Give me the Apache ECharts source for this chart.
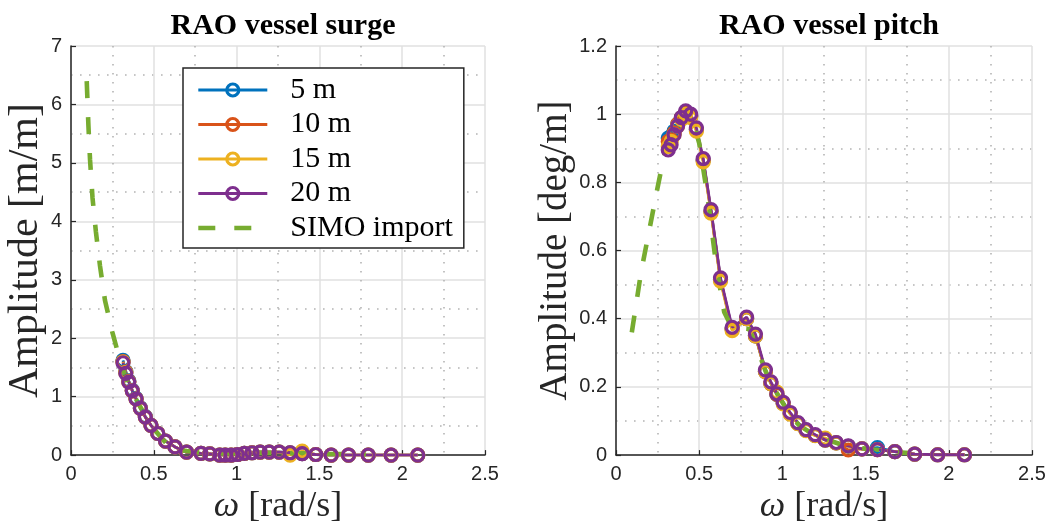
<!DOCTYPE html>
<html><head><meta charset="utf-8">
<script src="https://cdn.jsdelivr.net/npm/echarts@6/dist/echarts.min.js"></script>
<style>html,body{margin:0;padding:0;background:#fff}#c{width:1055px;height:530px}</style>
</head><body><div id="c"></div>
<script>
// ---- data ----
const omega = [0.314, 0.331, 0.349, 0.370, 0.393, 0.419, 0.449, 0.483, 0.524, 0.571, 0.628, 0.698, 0.785, 0.838, 0.898, 0.931, 0.967, 1.005, 1.047, 1.093, 1.142, 1.197, 1.257, 1.323, 1.396, 1.478, 1.571, 1.676, 1.795, 1.933, 2.094];

const surge5  = [1.62, 1.43, 1.27, 1.11, 0.97, 0.81, 0.66, 0.51, 0.37, 0.24, 0.14, 0.05, 0.03, 0.02, 0.0, 0.0, 0.0, 0.01, 0.03, 0.04, 0.05, 0.05, 0.05, 0.04, 0.025, 0.01, 0.0, 0.0, 0.0, 0.0, 0.0];
const surge10 = [1.60, 1.42, 1.26, 1.10, 0.96, 0.80, 0.65, 0.51, 0.37, 0.24, 0.14, 0.05, 0.03, 0.02, 0.0, 0.0, 0.0, 0.01, 0.03, 0.04, 0.05, 0.05, 0.05, 0.04, 0.025, 0.01, 0.0, 0.0, 0.0, 0.0, 0.0];
const surge15 = [1.59, 1.41, 1.25, 1.10, 0.96, 0.80, 0.65, 0.51, 0.37, 0.24, 0.14, 0.05, 0.03, 0.02, 0.0, 0.0, 0.0, 0.01, 0.03, 0.04, 0.05, 0.05, 0.05, 0.0, 0.07, 0.01, 0.0, 0.0, 0.0, 0.0, 0.0];
const surge20 = [1.58, 1.40, 1.25, 1.10, 0.96, 0.80, 0.65, 0.51, 0.37, 0.24, 0.14, 0.05, 0.03, 0.02, 0.0, 0.0, 0.0, 0.01, 0.03, 0.04, 0.05, 0.05, 0.05, 0.04, 0.025, 0.01, 0.0, 0.0, 0.0, 0.0, 0.0];

const pitch5  = [0.93, 0.935, 0.95, 0.97, 0.99, 1.005, 0.995, 0.955, 0.865, 0.715, 0.515, 0.37, 0.40, 0.35, 0.245, 0.21, 0.178, 0.152, 0.122, 0.093, 0.073, 0.058, 0.044, 0.036, 0.026, 0.018, 0.022, 0.01, 0.003, 0.001, 0.001];
const pitch10 = [0.92, 0.925, 0.945, 0.97, 0.99, 1.005, 0.995, 0.955, 0.865, 0.715, 0.515, 0.37, 0.40, 0.35, 0.245, 0.21, 0.178, 0.152, 0.122, 0.093, 0.073, 0.058, 0.044, 0.036, 0.015, 0.018, 0.016, 0.01, 0.003, 0.001, 0.001];
const pitch15 = [0.905, 0.92, 0.94, 0.965, 0.985, 1.0, 0.99, 0.95, 0.86, 0.71, 0.51, 0.365, 0.40, 0.35, 0.245, 0.21, 0.185, 0.15, 0.12, 0.092, 0.072, 0.057, 0.05, 0.036, 0.026, 0.018, 0.016, 0.01, 0.003, 0.001, 0.001];
const pitch20 = [0.895, 0.91, 0.94, 0.965, 0.99, 1.01, 1.00, 0.96, 0.87, 0.72, 0.52, 0.375, 0.405, 0.355, 0.25, 0.215, 0.18, 0.155, 0.125, 0.095, 0.075, 0.06, 0.045, 0.037, 0.027, 0.018, 0.016, 0.01, 0.003, 0.001, 0.001];

const simoSurgeOmega = [0.095, 0.105, 0.115, 0.13, 0.15, 0.175, 0.205, 0.25, 0.30, 0.35, 0.40, 0.45, 0.50, 0.55, 0.60, 0.65, 0.70, 0.80, 0.90, 1.00, 1.10, 1.20, 1.30, 1.40, 1.50, 1.60, 1.70, 1.78];
const simoSurge      = [6.40, 5.65, 5.05, 4.40, 3.83, 3.24, 2.65, 2.10, 1.58, 1.18, 0.92, 0.67, 0.45, 0.28, 0.13, 0.09, 0.07, 0.04, 0.03, 0.03, 0.04, 0.04, 0.035, 0.03, 0.02, 0.02, 0.015, 0.015];

const simoPitchOmega = [0.095, 0.15, 0.20, 0.25, 0.30, 0.35, 0.40, 0.45, 0.50, 0.55, 0.60, 0.65, 0.70, 0.75, 0.80, 0.85, 0.90, 0.95, 1.00, 1.05, 1.10, 1.15, 1.20, 1.25, 1.30, 1.35, 1.40, 1.45, 1.50, 1.55, 1.60, 1.65, 1.70, 1.76];
const simoPitch      = [0.36, 0.535, 0.66, 0.785, 0.905, 0.975, 1.0, 1.0, 0.915, 0.76, 0.565, 0.42, 0.37, 0.372, 0.37, 0.31, 0.245, 0.195, 0.155, 0.113, 0.088, 0.072, 0.058, 0.048, 0.04, 0.032, 0.027, 0.022, 0.019, 0.016, 0.014, 0.011, 0.008, 0.006];

const seriesNames = ['5 m', '10 m', '15 m', '20 m'];
const simoName = 'SIMO import';
const titles = ['RAO vessel surge', 'RAO vessel pitch'];
const yNames = ['Amplitude [m/m]', 'Amplitude [deg/m]'];
const xName = '{w|ω} [rad/s]';

// ---- styling ----
const colors = ['#0072BD', '#D95319', '#EDB120', '#7E2F8E'];
const simoColor = '#77AC30';
const axisColor = '#262626';
const serif = 'Liberation Serif';
const sans = 'Liberation Sans';
const markerLineWidth = 2.8;
const simoLineWidth = 4.6;

function pairs(xs, ys) { return xs.map((x, i) => [x, ys[i]]); }

function xAxisFor(idx) {
  return {
    type: 'value', gridIndex: idx, min: 0, max: 2.5, interval: 0.5,
    axisLine: { show: true, onZero: false, lineStyle: { color: axisColor, width: 1.5 } },
    axisTick: { show: true, inside: true, length: 5, lineStyle: { color: axisColor, width: 1.2 } },
    axisLabel: { color: axisColor, fontFamily: sans, fontSize: 20, margin: 9 },
    splitLine: { show: true, lineStyle: { color: '#e1e1e1', width: 1.5 } },
    minorTick: { show: false, splitNumber: 2 },
    minorSplitLine: { show: true, lineStyle: { color: '#b4b4b4', width: 1.6, type: [1.6, 7.4] } },
    name: xName, nameLocation: 'middle', nameGap: 30,
    nameTextStyle: { fontFamily: serif, fontSize: 36, color: axisColor,
      rich: { w: { fontFamily: serif, fontStyle: 'italic', fontSize: 36, color: axisColor } } }
  };
}
function yAxisFor(idx, max, interval, gap, fs) {
  return {
    type: 'value', gridIndex: idx, min: 0, max: max, interval: interval,
    axisLine: { show: true, onZero: false, lineStyle: { color: axisColor, width: 1.5 } },
    axisTick: { show: true, inside: true, length: 5, lineStyle: { color: axisColor, width: 1.2 } },
    axisLabel: { color: axisColor, fontFamily: sans, fontSize: 20, margin: 9 },
    splitLine: { show: true, lineStyle: { color: '#e1e1e1', width: 1.5 } },
    minorTick: { show: false, splitNumber: 2 },
    minorSplitLine: { show: true, lineStyle: { color: '#b4b4b4', width: 1.6, type: [1.6, 7.4] } },
    name: yNames[idx], nameLocation: 'middle', nameGap: gap,
    nameTextStyle: { fontFamily: serif, fontSize: fs, color: axisColor }
  };
}

const surgeSets = [surge5, surge10, surge15, surge20];
const pitchSets = [pitch5, pitch10, pitch15, pitch20];
const series = [];
[surgeSets, pitchSets].forEach((sets, c) => {
  sets.forEach((vals, i) => {
    series.push({
      type: 'line', name: seriesNames[i], xAxisIndex: c, yAxisIndex: c,
      data: pairs(omega, vals),
      symbol: 'circle', symbolSize: 12, showSymbol: true,
      lineStyle: { color: colors[i], width: markerLineWidth },
      itemStyle: { color: 'rgba(255,255,255,0)', borderColor: colors[i], borderWidth: 3.2 },
      emphasis: { disabled: true }, animation: false
    });
  });
});
series.push({
  type: 'line', name: simoName, xAxisIndex: 0, yAxisIndex: 0,
  data: pairs(simoSurgeOmega, simoSurge), symbol: 'none',
  lineStyle: { color: simoColor, width: simoLineWidth, type: [17, 19] },
  itemStyle: { color: simoColor }, emphasis: { disabled: true }, animation: false
});
series.push({
  type: 'line', name: simoName, xAxisIndex: 1, yAxisIndex: 1,
  data: pairs(simoPitchOmega, simoPitch), symbol: 'none',
  lineStyle: { color: simoColor, width: simoLineWidth, type: [17, 19] },
  itemStyle: { color: simoColor }, emphasis: { disabled: true }, animation: false
});

const legendData = seriesNames.map(n => ({ name: n }));
legendData.push({ name: simoName,
  lineStyle: { width: simoLineWidth },
  itemStyle: { color: 'rgba(0,0,0,0)', borderColor: 'rgba(0,0,0,0)', borderWidth: 0 } });

const chart = echarts.init(document.getElementById('c'), null, { renderer: 'canvas' });
chart.setOption({
  animation: false,
  backgroundColor: '#ffffff',
  title: [
    { text: titles[0], left: 278, top: 6, textAlign: 'center',
      textStyle: { fontFamily: serif, fontWeight: 'bold', fontSize: 30, color: '#000' } },
    { text: titles[1], left: 824, top: 6, textAlign: 'center',
      textStyle: { fontFamily: serif, fontWeight: 'bold', fontSize: 30, color: '#000' } }
  ],
  grid: [
    { left: 71, top: 46, width: 414, height: 416 },
    { left: 616, top: 46, width: 416, height: 416 }
  ],
  xAxis: [xAxisFor(0), xAxisFor(1)],
  yAxis: [yAxisFor(0, 7, 1, 23, 42), yAxisFor(1, 1.2, 0.2, 32, 39)],
  legend: {
    orient: 'vertical', left: 183, top: 68,
    padding: [7, 11, 5, 13],
    itemWidth: 69, itemHeight: 15, itemGap: 4.5,
    backgroundColor: '#ffffff', borderColor: axisColor, borderWidth: 1.5,
    selectedMode: false,
    itemStyle: { borderWidth: 3.2 },
    lineStyle: { width: markerLineWidth },
    textStyle: { fontFamily: serif, fontSize: 30, color: '#000', padding: [0, 0, 0, 18] },
    data: legendData
  },
  series: series
});
</script>
</body></html>
